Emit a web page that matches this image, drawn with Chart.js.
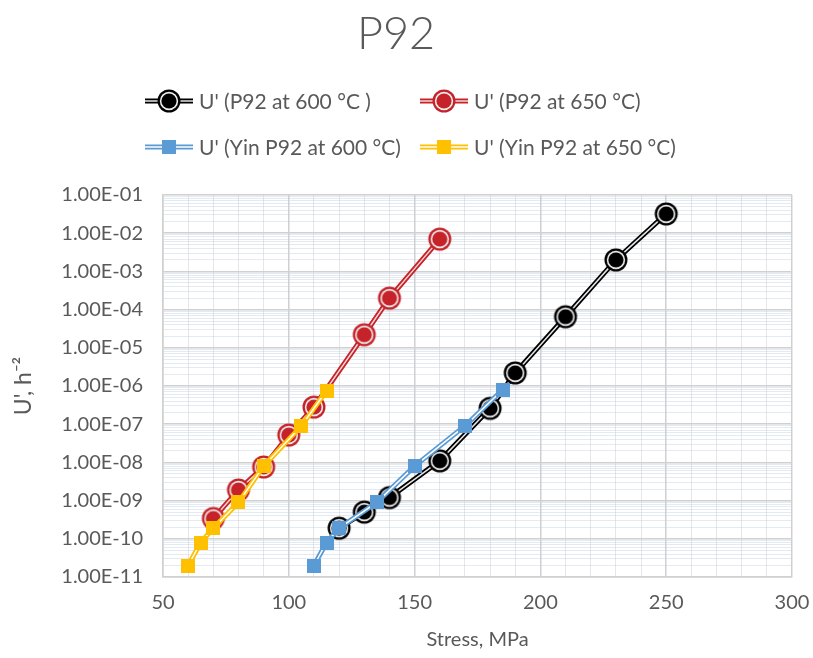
<!DOCTYPE html>
<html>
<head>
<meta charset="utf-8">
<title>P92</title>
<script src="https://cdn.jsdelivr.net/npm/chart.js@4.4.1/dist/chart.umd.min.js"></script>
<style>
  html, body { margin: 0; padding: 0; background: #fff; }
  #wrap { width: 813px; height: 658px; }
</style>
</head>
<body>
<div id="wrap"><canvas id="chart" width="813" height="658"></canvas></div>
<script>
// series names, in legend order
const seriesLabels = [
  "U' (P92 at 600 °C )",
  "U' (P92 at 650 °C)",
  "U' (Yin P92 at 600 °C)",
  "U' (Yin P92 at 650 °C)"
];

// stress (MPa) and U' (h^-2) for each series
const stressP92at600 = [120, 130, 140, 160, 180, 190, 210, 230, 250];
const uP92at600 = [1.9e-10, 5.0e-10, 1.2e-9, 1.1e-8, 2.6e-7, 2.2e-6, 6.5e-5, 2.0e-3, 3.2e-2];

const stressP92at650 = [70, 80, 90, 100, 110, 130, 140, 160];
const uP92at650 = [3.4e-10, 1.9e-9, 7.6e-9, 5.2e-8, 2.8e-7, 2.2e-5, 2.0e-4, 7.0e-3];

const stressYin600 = [110, 115, 120, 135, 150, 170, 185];
const uYin600 = [2.0e-11, 8.0e-11, 1.9e-10, 9.0e-10, 8.0e-9, 9.0e-8, 8.0e-7];

const stressYin650 = [60, 65, 70, 80, 90, 105, 115];
const uYin650 = [2.0e-11, 8.0e-11, 1.9e-10, 9.0e-10, 8.0e-9, 9.0e-8, 7.5e-7];

// axis ranges
const stressTicks = [50, 100, 150, 200, 250, 300];
const uMinExp = -11;
const uMaxExp = -1;

const FONT = 'Lato, "Open Sans", sans-serif';
const TEXT = '#595959';
const GRID_MAJOR = '#d0d0d0';
const GRID_MINOR_H = 'rgba(190,205,222,0.42)';
const GRID_MINOR_V = '#e6e6e6';

// marker images: ringed circle for the P92 data, square for Yin
function ringMarker(color) {
  const c = document.createElement('canvas');
  c.width = 26; c.height = 26;
  const g = c.getContext('2d');
  const disc = (r, fill) => {
    g.beginPath();
    g.arc(13, 13, r, 0, Math.PI * 2);
    g.fillStyle = fill;
    g.fill();
  };
  disc(11.5, color);
  disc(9.2, '#eeeeee');
  disc(7.6, color);
  return c;
}

function squareMarker(color) {
  const c = document.createElement('canvas');
  c.width = 14; c.height = 14;
  const g = c.getContext('2d');
  g.fillStyle = color;
  g.fillRect(0, 0, 14, 14);
  return c;
}

const series = [
  { x: stressP92at600, y: uP92at600, color: '#000000', inner: '#e6e6e6', marker: ringMarker('#000000') },
  { x: stressP92at650, y: uP92at650, color: '#c62229', inner: '#f4d6d6', marker: ringMarker('#c62229') },
  { x: stressYin600, y: uYin600, color: '#5b9bd5', inner: '#ffffff', marker: squareMarker('#5b9bd5') },
  { x: stressYin650, y: uYin650, color: '#ffc000', inner: '#ffffff', marker: squareMarker('#ffc000') }
];

// each series = outer line, light centre line, markers (later series on top)
const datasets = [];
series.forEach((s, i) => {
  const pts = s.x.map((v, k) => ({ x: v, y: s.y[k] }));
  const base = 100 - i * 3;
  datasets.push({
    label: seriesLabels[i], data: pts, showLine: true, borderColor: s.color,
    borderWidth: 5, pointRadius: 0, order: base
  });
  datasets.push({
    label: seriesLabels[i] + ' centre', data: pts, showLine: true, borderColor: s.inner,
    borderWidth: 1.5, pointRadius: 0, order: base - 1
  });
  datasets.push({
    label: seriesLabels[i] + ' markers', data: pts, showLine: false,
    pointStyle: s.marker, pointRadius: 10, order: base - 2
  });
});

function isDecade(v) {
  const l = Math.log10(v);
  return Math.abs(l - Math.round(l)) < 1e-9;
}

function sciLabel(v) {
  const e = Math.round(Math.log10(v));
  const sign = e < 0 ? '-' : '+';
  return '1.00E' + sign + String(Math.abs(e)).padStart(2, '0');
}

// two-column legend with double-line swatches
const pairLegend = {
  id: 'pairLegend',
  afterDraw(chart) {
    const ctx = chart.ctx;
    const cols = [145, 420];
    const rows = [101, 147];
    const iconLen = 48;
    ctx.save();
    ctx.font = '21px ' + FONT;
    ctx.fillStyle = TEXT;
    ctx.textBaseline = 'middle';
    series.forEach((s, i) => {
      const x0 = cols[i % 2];
      const y = rows[Math.floor(i / 2)];
      ctx.lineCap = 'butt';
      ctx.strokeStyle = s.color;
      ctx.lineWidth = 5;
      ctx.beginPath(); ctx.moveTo(x0, y); ctx.lineTo(x0 + iconLen, y); ctx.stroke();
      ctx.strokeStyle = s.inner;
      ctx.lineWidth = 1.5;
      ctx.beginPath(); ctx.moveTo(x0, y); ctx.lineTo(x0 + iconLen, y); ctx.stroke();
      const m = s.marker;
      ctx.drawImage(m, x0 + iconLen / 2 - m.width / 2, y - m.height / 2);
      ctx.fillText(seriesLabels[i], x0 + iconLen + 6, y + 1);
    });
    ctx.restore();
  }
};

new Chart(document.getElementById('chart'), {
  type: 'scatter',
  data: { datasets },
  options: {
    responsive: false,
    animation: false,
    events: [],
    layout: { padding: { left: 0, right: 21, top: 0, bottom: 0 } },
    elements: { line: { tension: 0 } },
    plugins: {
      legend: { display: false },
      tooltip: { enabled: false },
      title: {
        display: true,
        text: 'P92',
        color: TEXT,
        font: { family: FONT, size: 45, weight: '300' },
        padding: { top: 7, bottom: 134 }
      }
    },
    scales: {
      x: {
        type: 'linear',
        min: stressTicks[0],
        max: stressTicks[stressTicks.length - 1],
        afterFit: (scale) => {
          scale.height = 81;
          scale.paddingLeft = 0;
          scale.paddingRight = 0;
        },
        ticks: {
          stepSize: 10,
          autoSkip: false,
          maxRotation: 0,
          padding: 14,
          color: TEXT,
          font: { family: FONT, size: 20 },
          callback: (v) => stressTicks.includes(v) ? String(v) : ''
        },
        grid: {
          drawTicks: false,
          color: (c) => stressTicks.includes(c.tick.value) ? GRID_MAJOR : GRID_MINOR_V,
          lineWidth: (c) => stressTicks.includes(c.tick.value) ? 1.5 : 1
        },
        border: { color: GRID_MAJOR, width: 1.5 },
        title: {
          display: true,
          text: 'Stress, MPa',
          color: TEXT,
          font: { family: FONT, size: 20 },
          padding: { top: 0, bottom: 6 }
        }
      },
      y: {
        type: 'logarithmic',
        min: Math.pow(10, uMinExp),
        max: Math.pow(10, uMaxExp),
        afterFit: (scale) => { scale.width = 163; },
        afterBuildTicks: (scale) => {
          const ticks = [];
          for (let e = uMinExp; e <= uMaxExp; e++) {
            for (let m = 1; m <= 9; m++) {
              if (e === uMaxExp && m > 1) break;
              ticks.push({ value: parseFloat(m + 'e' + e) });
            }
          }
          scale.ticks = ticks;
        },
        ticks: {
          autoSkip: false,
          padding: 20,
          color: TEXT,
          font: { family: FONT, size: 20 },
          callback: (v) => isDecade(v) ? sciLabel(v) : ''
        },
        grid: {
          drawTicks: false,
          color: (c) => isDecade(c.tick.value) ? GRID_MAJOR : GRID_MINOR_H,
          lineWidth: (c) => isDecade(c.tick.value) ? 1.5 : 1
        },
        border: { color: GRID_MAJOR, width: 1.5 },
        title: {
          display: true,
          text: "U', h\u207B\u00B2",
          color: TEXT,
          font: { family: FONT, size: 23 },
          padding: { top: 10, bottom: 0 }
        }
      }
    }
  },
  plugins: [pairLegend]
});
</script>
</body>
</html>
